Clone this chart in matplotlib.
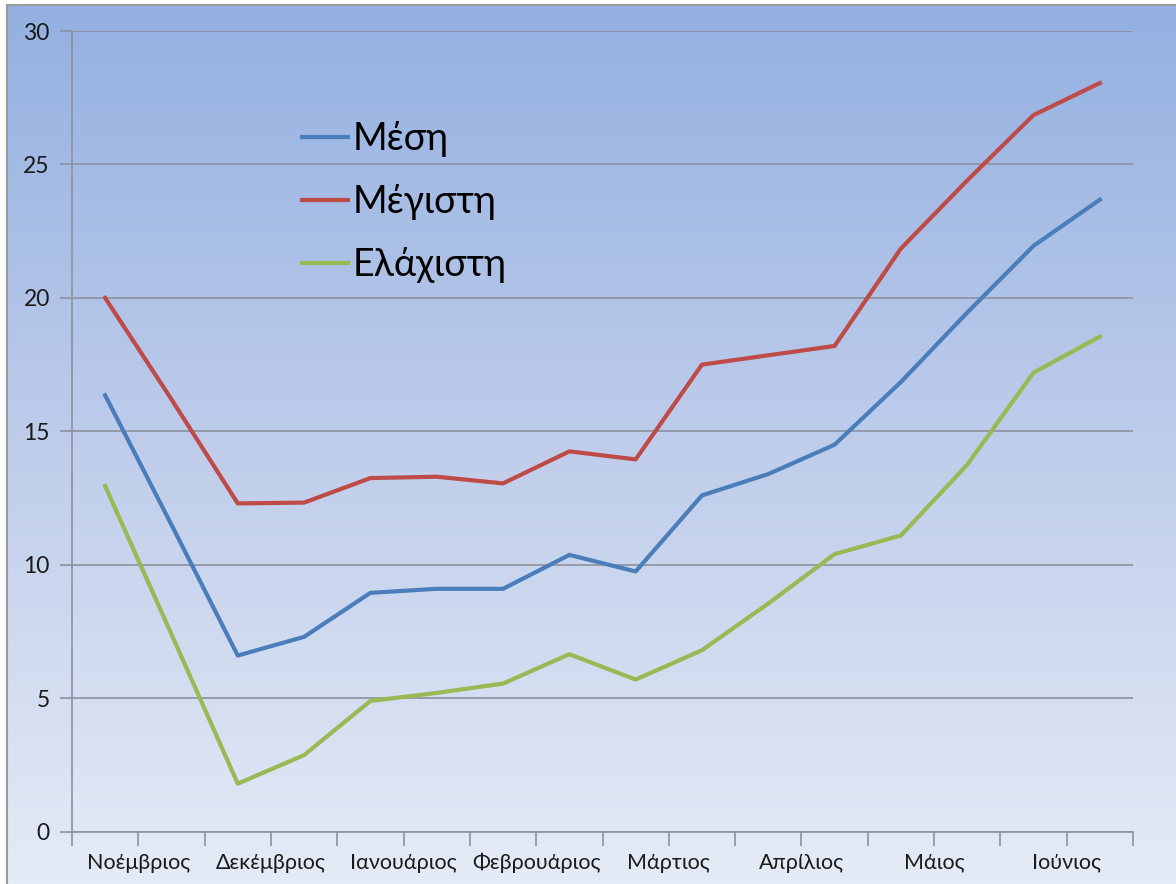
import numpy as np
import matplotlib
matplotlib.use("Agg")
import matplotlib.pyplot as plt
from matplotlib.colors import LinearSegmentedColormap

plt.rcParams['font.family'] = ['Lato', 'Open Sans', 'DejaVu Sans']

# 16 μισομηνιαίες τιμές, ετικέτα ανά δύο σημεία
months = ["Νοέμβριος", "Δεκέμβριος", "Ιανουάριος", "Φεβρουάριος",
          "Μάρτιος", "Απρίλιος", "Μάιος", "Ιούνιος"]
mesi = [16.35, 11.5, 6.6, 7.3, 8.95, 9.1, 9.1, 10.37,
        9.75, 12.6, 13.4, 14.5, 16.85, 19.45, 21.95, 23.68]
megisti = [20.0, 16.2, 12.3, 12.33, 13.25, 13.3, 13.05, 14.25,
           13.95, 17.5, 17.85, 18.2, 21.85, 24.4, 26.85, 28.05]
elaxisti = [12.95, 7.4, 1.8, 2.87, 4.9, 5.2, 5.55, 6.65,
            5.7, 6.8, 8.55, 10.4, 11.1, 13.75, 17.2, 18.55]

W, H = 1176, 884
fig = plt.figure(figsize=(W / 100, H / 100), dpi=100)
fig.patch.set_facecolor("white")

# φόντο με διαβάθμιση
bg = fig.add_axes([7 / W, 0, 1 - 7 / W, 1 - 5 / H])
cmap = LinearSegmentedColormap.from_list("bg", ["#93B0E1", "#BFCDEB", "#E5EBF6"])
grad = np.linspace(0, 1, 256).reshape(-1, 1)
bg.imshow(grad, aspect="auto", cmap=cmap, extent=[0, 1, 0, 1], origin="upper")
bg.set_xlim(0, 1)
bg.set_ylim(0, 1)
for s in ["top", "left"]:
    bg.spines[s].set_color("#9a9a9a")
    bg.spines[s].set_linewidth(1.5)
for s in ["bottom", "right"]:
    bg.spines[s].set_visible(False)
bg.set_xticks([])
bg.set_yticks([])

ax = fig.add_axes([72 / W, 1 - 831.7 / H, (1133 - 72) / W, (831.7 - 31) / H])
ax.patch.set_alpha(0)

x = np.arange(len(mesi))
ax.plot(x, mesi, color="#4A7EBB", lw=3, label="Μέση")
ax.plot(x, megisti, color="#BE4B48", lw=3, label="Μέγιστη")
ax.plot(x, elaxisti, color="#98B954", lw=3, label="Ελάχιστη")

ax.set_xlim(-0.5, len(mesi) - 0.5)
ax.set_ylim(0, 30)
ax.set_yticks(range(0, 31, 5))
ax.yaxis.grid(True, color="#8c919c", lw=1.2)
ax.set_axisbelow(True)

ax.set_xticks(np.arange(0.5, len(mesi), 2))
ax.set_xticklabels(months)
ax.set_xticks(np.arange(-0.5, len(mesi) + 0.5, 2), minor=True)
ax.tick_params(axis="x", which="both", length=10, color="#8c919c", width=1.2,
               direction="out", pad=5, labelsize=15.5, labelcolor="#1a1a1a")
ax.tick_params(axis="y", length=9, color="#8c919c", width=1.2, pad=7,
               labelsize=16.5, labelcolor="#1a1a1a")

for s in ["top", "right"]:
    ax.spines[s].set_visible(False)
for s in ["left", "bottom"]:
    ax.spines[s].set_color("#8c919c")
    ax.spines[s].set_linewidth(1.2)

ax.legend(loc="upper left", bbox_to_anchor=(0.2168, 0.888), frameon=False,
          fontsize=27, handlelength=1.22, handletextpad=0.13, labelspacing=0.72,
          borderaxespad=0, borderpad=0)

fig.savefig("out.png", dpi=100)
